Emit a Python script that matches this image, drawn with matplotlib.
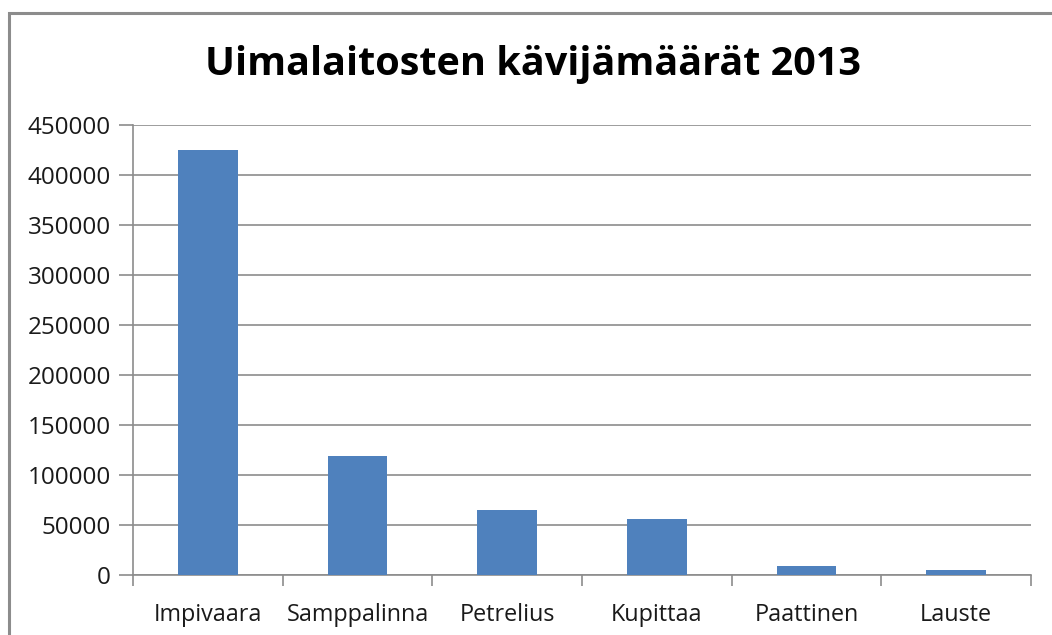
import matplotlib
matplotlib.use("Agg")
import matplotlib.pyplot as plt
from matplotlib.patches import Rectangle
import numpy as np

categories = ["Impivaara", "Samppalinna", "Petrelius", "Kupittaa", "Paattinen", "Lauste"]
visitors = [425500, 119500, 65500, 56500, 9000, 5000]
yticks = [0, 50000, 100000, 150000, 200000, 250000, 300000, 350000, 400000, 450000]
title = "Uimalaitosten kävijämäärät 2013"

W, H = 1052, 635
fig = plt.figure(figsize=(W / 100, H / 100), dpi=100)
fig.patch.set_facecolor("white")

# chart border (extends beyond right/bottom)
fig.patches.append(Rectangle((9 / W, -0.05), 1.1, 1 - 13 / H + 0.05,
                             transform=fig.transFigure, fill=False,
                             edgecolor="#8c8c8c", linewidth=2.2, zorder=0))

ax = fig.add_axes([133 / W, 1 - 575 / H, (1031 - 133) / W, (575 - 125) / H])
x = np.arange(len(categories))
ax.bar(x, visitors, width=0.4, color="#4F81BD", zorder=3)
ax.set_xlim(-0.5, len(categories) - 0.5)
ax.set_ylim(0, 450000)
ax.set_yticks(yticks)
ax.set_yticklabels([str(v) for v in yticks])
ax.set_xticks(x)
ax.set_xticklabels(categories)
ax.set_xticks(np.arange(-0.5, len(categories)), minor=True)

for s in ["top", "right"]:
    ax.spines[s].set_visible(False)
for s in ["left", "bottom"]:
    ax.spines[s].set_color("#8c8c8c")
    ax.spines[s].set_linewidth(1.2)

ax.yaxis.grid(True, color="#8c8c8c", linewidth=1.2, zorder=0)
ax.set_axisbelow(True)
ax.tick_params(axis="y", length=10, width=1.2, color="#8c8c8c", pad=6,
               labelsize=17.5, labelcolor="#1a1a1a")
ax.tick_params(axis="x", which="major", length=0, pad=20,
               labelsize=16.8, labelcolor="#1a1a1a")
ax.tick_params(axis="x", which="minor", length=8, width=1.2, color="#8c8c8c")
for lab in ax.get_xticklabels() + ax.get_yticklabels():
    lab.set_fontfamily("Open Sans")

fig.text(533 / W, 1 - 65 / H, title, ha="center", va="center",
         fontsize=28.5, fontweight="bold", fontfamily="Open Sans", color="black")

fig.savefig("out.png", dpi=100)
